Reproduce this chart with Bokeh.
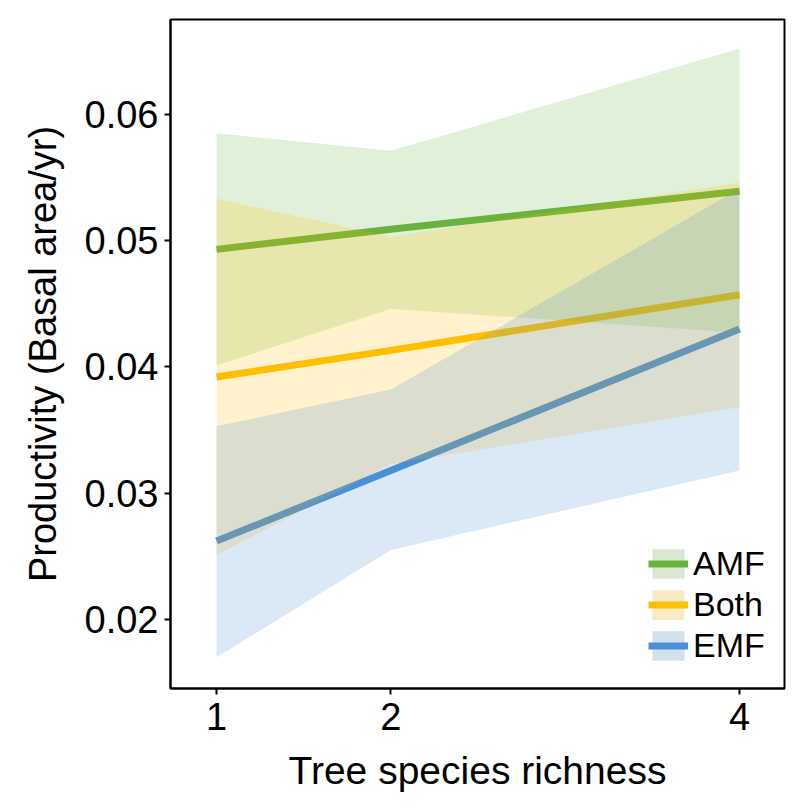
from bokeh.plotting import figure
from bokeh.models import Range1d, FixedTicker, NumeralTickFormatter, Legend, LegendItem
from bokeh.embed import file_html
from bokeh.resources import INLINE

richness = [1, 2, 4]

amf_fit = [0.0493, 0.0509, 0.0539]
amf_low = [0.0401, 0.0446, 0.0427]
amf_high = [0.0585, 0.0571, 0.0652]

both_fit = [0.0392, 0.0413, 0.0457]
both_low = [0.0251, 0.0323, 0.0368]
both_high = [0.0533, 0.0503, 0.0546]

emf_fit = [0.0262, 0.0318, 0.0430]
emf_low = [0.0170, 0.0255, 0.0318]
emf_high = [0.0353, 0.0382, 0.0541]

x_ticks = [1, 2, 4]
y_ticks = [0.02, 0.03, 0.04, 0.05, 0.06]

groups = ["AMF", "Both", "EMF"]

c_amf = "#6AB23E"
c_both = "#FFC000"
c_emf = "#4A90D9"

FONT = "Liberation Sans"

p = figure(frame_width=614, frame_height=669,
           min_border_left=170, min_border_right=8,
           min_border_top=19, min_border_bottom=100,
           x_range=Range1d(0.736, 4.258), y_range=Range1d(0.01453, 0.0675),
           output_backend="svg", toolbar_location=None)

l_amf = p.line(richness, amf_fit, line_color=c_amf, line_width=7)
l_both = p.line(richness, both_fit, line_color=c_both, line_width=7)
l_emf = p.line(richness, emf_fit, line_color=c_emf, line_width=7)

r_amf = p.varea(x=richness, y1=amf_low, y2=amf_high, fill_color=c_amf, fill_alpha=0.2)
r_both = p.varea(x=richness, y1=both_low, y2=both_high, fill_color=c_both, fill_alpha=0.2)
r_emf = p.varea(x=richness, y1=emf_low, y2=emf_high, fill_color=c_emf, fill_alpha=0.2)

# zero-area key backgrounds (only visible in the legend)
bgs = []
for fit in (amf_fit, both_fit, emf_fit):
    bgs.append(p.varea(x=richness, y1=fit, y2=fit, fill_color="#7f7f7f", fill_alpha=0.08))

items = [
    LegendItem(label=groups[0], renderers=[bgs[0], r_amf, l_amf]),
    LegendItem(label=groups[1], renderers=[bgs[1], r_both, l_both]),
    LegendItem(label=groups[2], renderers=[bgs[2], r_emf, l_emf]),
]

p.xgrid.visible = False
p.ygrid.visible = False
p.outline_line_color = "black"
p.outline_line_width = 2
p.outline_line_alpha = 1

p.xaxis.ticker = FixedTicker(ticks=x_ticks)
p.yaxis.ticker = FixedTicker(ticks=y_ticks)
p.yaxis.formatter = NumeralTickFormatter(format="0.00")

for ax in (p.xaxis, p.yaxis):
    ax.axis_line_color = "black"
    ax.axis_line_width = 2
    ax.major_tick_line_color = "black"
    ax.major_tick_line_width = 2
    ax.major_tick_out = 6
    ax.major_tick_in = 0
    ax.minor_tick_line_color = None
    ax.major_label_text_font = FONT
    ax.major_label_text_font_size = "38px"
    ax.major_label_text_color = "black"
    ax.axis_label_text_font = FONT
    ax.axis_label_text_font_style = "normal"
    ax.axis_label_text_color = "black"

p.xaxis.axis_label_text_font_size = "39px"
p.yaxis.axis_label_text_font_size = "38px"
p.xaxis.axis_label = "Tree species richness"
p.yaxis.axis_label = "Productivity (Basal area/yr)"
p.xaxis.major_label_standoff = 8
p.yaxis.major_label_standoff = 6
p.xaxis.axis_label_standoff = 16
p.yaxis.axis_label_standoff = 18

legend = Legend(items=items, location=(478, 23))
legend.glyph_width = 40
legend.glyph_height = 37
legend.spacing = 2
legend.padding = 0
legend.margin = 0
legend.label_standoff = 5
legend.label_text_font = FONT
legend.label_text_font_size = "34px"
legend.label_text_color = "black"
legend.border_line_color = None
legend.background_fill_alpha = 0
p.add_layout(legend, "center")

open("out.html", "w").write(file_html(p, INLINE))
